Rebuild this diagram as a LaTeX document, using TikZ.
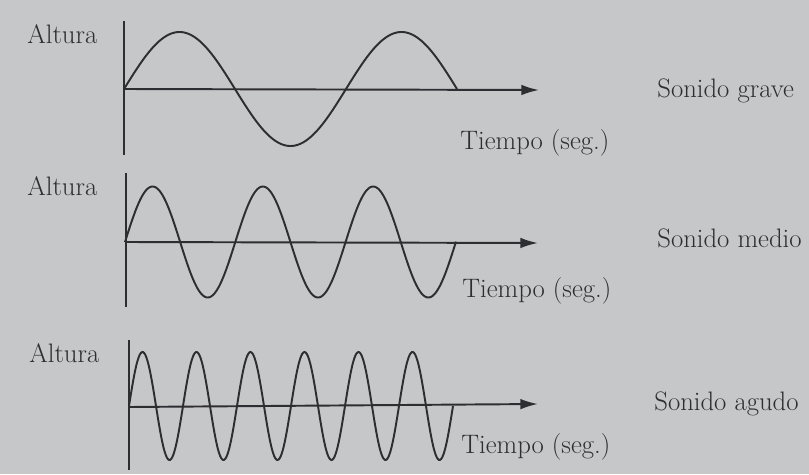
\documentclass[tikz,border=0pt]{standalone}
\usepackage{tikz}
\usetikzlibrary{arrows.meta,positioning}
\definecolor{PaperGray}{RGB}{198,199,201}
\definecolor{InkDark}{RGB}{45,45,50}

\begin{document}
\begin{tikzpicture}[x=0.02cm, y=-0.02cm,
        lbl/.style={anchor=base west, inner sep=0pt, text=InkDark,
                    font=\fontsize{15.2}{18}\selectfont},
        yaxis/.style={draw=InkDark, line width=1.1pt},
        xaxis/.style={draw=InkDark, line width=1.1pt, -{Latex[length=10pt, width=6pt]}},
        wave/.style={draw=InkDark, line width=1.1pt, samples=300, smooth}
]
    \fill[PaperGray] (0,0) rectangle (809,474);
    \useasboundingbox (0,0) rectangle (809,474);

    % sonido grave
    \coordinate (t1) at (124,21);
    \coordinate (b1) at (124,155);
    \coordinate (o1) at (124,89);
    \coordinate (e1) at (539,90);
    \node[lbl] (alt1) at (27,43) {Altura};
    \node[lbl] (tie1) at (460,149) {Tiempo (seg.)};
    \node[lbl] (son1) at (657,97) {Sonido grave};
    \draw[yaxis] (t1) -- (b1);
    \draw[xaxis] (o1) -- (e1);
    \draw[wave, domain=124:457] plot (\x, {89 - 57*sin((\x-124)/222*360)});

    % sonido medio
    \coordinate (t2) at (126,173);
    \coordinate (b2) at (126,307);
    \coordinate (o2) at (126,242);
    \coordinate (e2) at (538,243);
    \node[lbl] (alt2) at (27,195) {Altura};
    \node[lbl] (tie2) at (462,297) {Tiempo (seg.)};
    \node[lbl] (son2) at (657,247) {Sonido medio};
    \draw[yaxis] (t2) -- (b2);
    \draw[xaxis] (o2) -- (e2);
    \draw[wave, domain=125:456] plot (\x, {242 - 55.5*sin((\x-125)/110.3*360)});

    % sonido agudo
    \coordinate (t3) at (129,340);
    \coordinate (b3) at (129,470);
    \coordinate (o3) at (129,407);
    \coordinate (e3) at (538,404);
    \node[lbl] (alt3) at (29,362) {Altura};
    \node[lbl] (tie3) at (461,453) {Tiempo (seg.)};
    \node[lbl] (son3) at (654,410) {Sonido agudo};
    \draw[yaxis] (t3) -- (b3);
    \draw[xaxis] (o3) -- (e3);
    \draw[wave, domain=129:453] plot (\x, {406 - 54*sin((\x-129)/54*360)});
\end{tikzpicture}
\end{document}
